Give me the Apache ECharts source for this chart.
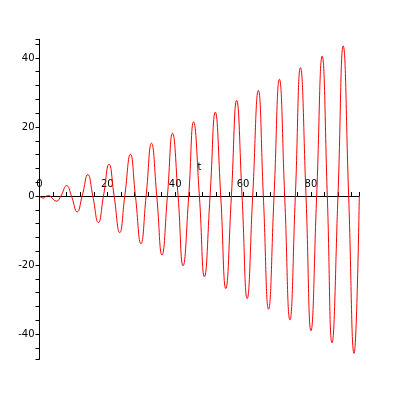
<!DOCTYPE html>
<html>
<head>
<meta charset="utf-8">
<script src="https://cdn.jsdelivr.net/npm/echarts@6/dist/echarts.min.js"></script>
<style>html,body{margin:0;padding:0;background:#fff;}#c{width:400px;height:400px;}</style>
</head>
<body>
<div id="c"></div>
<script>
// t values (extrema and zero crossings)
const tValues = [0, 1.1, 2.1, 2.7, 3.14, 5.0, 6.28, 8.0, 9.42, 11.1, 12.57, 14.25, 15.71, 17.35, 18.85, 20.5, 21.99, 23.65, 25.13, 26.8, 28.27, 29.9, 31.42, 33.0, 34.56, 36.1, 37.70, 39.2, 40.84, 42.3, 43.98, 45.4, 47.12, 48.6, 50.27, 51.8, 53.41, 54.9, 56.55, 58.1, 59.69, 61.2, 62.83, 64.5, 65.97, 67.5, 69.12, 70.7, 72.26, 73.8, 75.40, 76.9, 78.54, 80.0, 81.68, 83.3, 84.82, 86.2, 87.96, 89.5, 91.11, 92.7, 94.25];
const yValues = [0, -0.6, 0, 0.15, 0, -1.5, 0, 3.0, 0, -4.6, 0, 6.2, 0, -7.7, 0, 9.2, 0, -10.6, 0, 12.1, 0, -13.8, 0, 15.3, 0, -17.1, 0, 18.2, 0, -20.2, 0, 21.5, 0, -23.4, 0, 24.3, 0, -26.8, 0, 27.7, 0, -29.7, 0, 30.6, 0, -32.8, 0, 33.8, 0, -35.9, 0, 37.2, 0, -39.0, 0, 40.5, 0, -42.5, 0, 43.5, 0, -45.6, 0];
const xTickLabels = [0, 20, 40, 60, 80];
const yTickLabels = [-40, -20, 0, 20, 40];
const xName = 't';

const yMin = -47.3, yMax = 45.4;
const gridTop = 39.3, gridHeight = 320;
const chart = echarts.init(document.getElementById('c'), null, {renderer: 'canvas'});
const data = tValues.map((t, i) => [t, yValues[i]]);
const font = 'DejaVu Sans';
// move the x axis up to the y = 0 line
const xOffset = -gridHeight * (0 - yMin) / (yMax - yMin);
chart.setOption({
  animation: false,
  backgroundColor: '#ffffff',
  grid: {left: 39.5, top: gridTop, width: 319.8, height: gridHeight, containLabel: false, outerBoundsMode: 'none'},
  xAxis: {
    type: 'value', min: 0, max: 94.248, minInterval: 4, maxInterval: 4,
    position: 'bottom', offset: xOffset,
    name: xName, nameLocation: 'middle', nameGap: -34, nameMoveOverlap: false,
    nameTextStyle: {color: '#000', fontFamily: font, fontSize: 10},
    axisLine: {onZero: false, lineStyle: {color: '#000', width: 1}},
    axisTick: {show: true, inside: true, length: 4, lineStyle: {color: '#000'}},
    axisLabel: {inside: true, margin: 7, color: '#000', fontFamily: font, fontSize: 10,
      showMinLabel: true, showMaxLabel: true, hideOverlap: false,
      formatter: v => xTickLabels.includes(Math.round(v * 1000) / 1000) ? String(v) : ''},
    splitLine: {show: false}
  },
  yAxis: {
    type: 'value', min: yMin, max: yMax, minInterval: 4, maxInterval: 4,
    position: 'left',
    axisLine: {onZero: false, lineStyle: {color: '#000', width: 1}},
    axisTick: {show: true, inside: false, length: 4, lineStyle: {color: '#000'}},
    axisLabel: {margin: 5, color: '#000', fontFamily: font, fontSize: 10,
      showMinLabel: true, showMaxLabel: true, hideOverlap: false,
      formatter: v => yTickLabels.includes(Math.round(v * 1000) / 1000) ? String(v) : ''},
    splitLine: {show: false}
  },
  series: [{
    type: 'line', data: data, showSymbol: false, smooth: 0.5,
    lineStyle: {color: '#ff0000', width: 1}
  }]
});
</script>
</body>
</html>
